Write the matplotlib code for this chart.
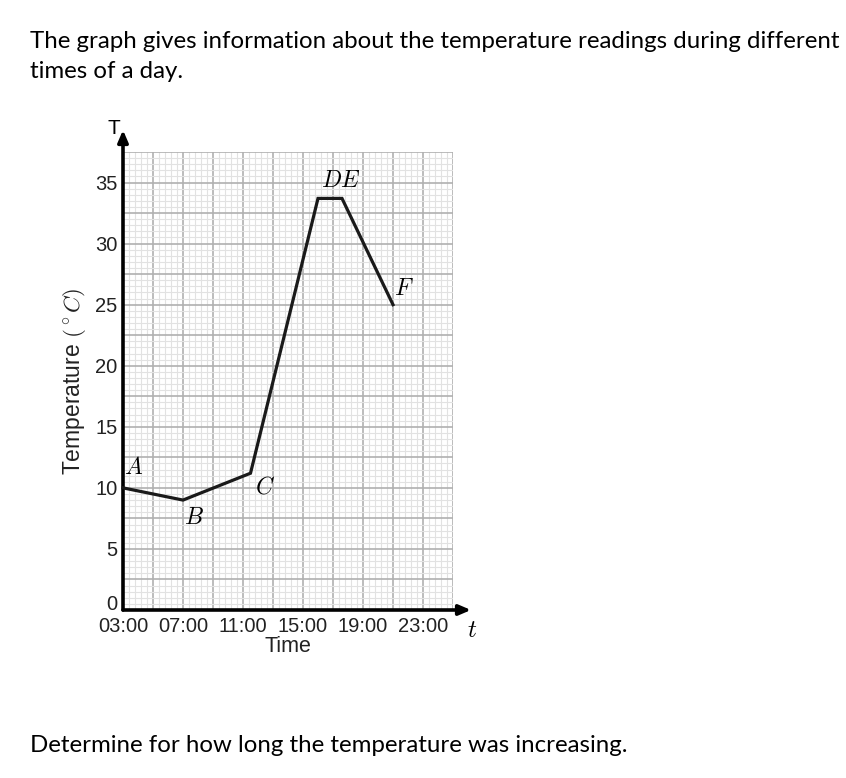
import matplotlib
matplotlib.use("Agg")
import matplotlib.pyplot as plt
from matplotlib.ticker import MultipleLocator, FuncFormatter

# readings
hours = [3, 7, 11.5, 16, 17.6, 21]
temps = [10, 9, 11.2, 33.7, 33.7, 25]
point_names = ["A", "B", "C", "DE", "F"]
name_x = [3.05, 7.1, 11.8, 16.2, 21.1]
name_y = [11.7, 7.6, 10.1, 35.2, 26.4]
x_labels = ["03:00", "07:00", "11:00", "15:00", "19:00", "23:00"]
y_labels = [5, 10, 15, 20, 25, 30, 35]

plt.rcParams["mathtext.fontset"] = "cm"

fig = plt.figure(figsize=(8.46, 7.78), dpi=100)
ax = fig.add_axes([123 / 846, 1 - 610 / 778, 330 / 846, 458 / 778])
ax.set_xlim(3, 25)
ax.set_ylim(0, 37.5)

ax.xaxis.set_major_locator(MultipleLocator(2, offset=1))
ax.xaxis.set_minor_locator(MultipleLocator(0.4, offset=3))
ax.yaxis.set_major_locator(MultipleLocator(2.5))
ax.yaxis.set_minor_locator(MultipleLocator(0.5))


def fmt_x(v, pos):
    h = int(round(v))
    return f"{h:02d}:00" if f"{h:02d}:00" in x_labels else ""


def fmt_y(v, pos):
    return f"{int(v)}" if abs(v - round(v)) < 1e-6 and int(round(v)) in y_labels else ""


ax.xaxis.set_major_formatter(FuncFormatter(fmt_x))
ax.yaxis.set_major_formatter(FuncFormatter(fmt_y))
ax.grid(which="major", color="#b0b0b0", lw=1.2)
ax.grid(which="minor", color="#e2e2e2", lw=0.8)
ax.set_axisbelow(True)
ax.tick_params(which="both", length=0)
ax.tick_params(axis="x", pad=5, labelsize=14.5)
ax.tick_params(axis="y", pad=4, labelsize=14.5)
for lab in ax.get_xticklabels() + ax.get_yticklabels():
    lab.set_fontfamily("Liberation Sans")
    lab.set_color("#222222")
for s in ax.spines.values():
    s.set_visible(False)

# the zero label sits just above the time axis
ax.annotate("0", xy=(3, 0), xytext=(-4, -3), textcoords="offset points", ha="right", va="bottom",
            fontsize=14.5, family="Liberation Sans", color="#222222")

# axes with arrows
ax.annotate("", xy=(3, 39.3), xytext=(3, 0), annotation_clip=False,
            arrowprops=dict(arrowstyle="-|>,head_width=0.3,head_length=0.7", lw=2.6, color="black",
                            shrinkA=0, shrinkB=0))
ax.annotate("", xy=(26.2, 0), xytext=(3, 0), annotation_clip=False,
            arrowprops=dict(arrowstyle="-|>,head_width=0.3,head_length=0.7", lw=2.6, color="black",
                            shrinkA=0, shrinkB=0))
ax.text(2.4, 39.4, "T", fontsize=15, family="Liberation Sans", ha="center", va="center", clip_on=False)
ax.text(26.3, -1.6, "$t$", fontsize=18, ha="center", va="center", clip_on=False)

ax.plot(hours, temps, color="#1a1a1a", lw=2.3, solid_joinstyle="miter", clip_on=False, zorder=3)
for n, x, y in zip(point_names, name_x, name_y):
    ax.text(x, y, f"${n}$", fontsize=17, ha="left", va="center", zorder=4)

ax.set_xlabel("Time", fontsize=15.5, family="Liberation Sans", labelpad=0, color="#222222")
ax.set_ylabel(r"Temperature $(^\circ C)$", fontsize=16.5, family="Liberation Sans", labelpad=5,
              color="#222222")

fig.text(30 / 846, 1 - 42 / 778,
         "The graph gives information about the temperature readings during different",
         fontsize=17.3, family="Lato", ha="left", va="center")
fig.text(30 / 846, 1 - 71 / 778, "times of a day.", fontsize=17.3, family="Lato", ha="left", va="center")
fig.text(30 / 846, 1 - 745 / 778, "Determine for how long the temperature was increasing.",
         fontsize=17.3, family="Lato", ha="left", va="center")

fig.savefig("out.png", dpi=100, facecolor="white")
